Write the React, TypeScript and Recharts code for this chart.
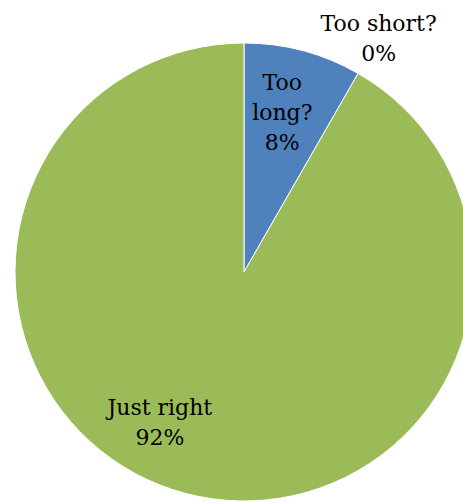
import { PieChart, Pie, Cell } from 'recharts';

const categories = ['Too long?', 'Too short?', 'Just right'];
const shares = [8.3, 0, 91.7];
const sliceColors = ['#4F81BD', '#4F81BD', '#9BBB59'];

// how each category label wraps onto lines
const labelLines = [['Too', 'long?'], ['Too short?'], ['Just right']];
// label placement relative to the slice: radius factor and angle shift (deg)
const labelRadius = [0.72, 1.18, 0.75];
const labelShift = [1.5, 0, -14.4];

const data = categories.map((name, i) => ({ name, value: shares[i] }));

const RAD = Math.PI / 180;
const LINE_H = 30;

const renderLabel = (props: any) => {
  const { cx, cy, midAngle, outerRadius, index, percent } = props;
  const r = outerRadius * labelRadius[index];
  const a = (midAngle + labelShift[index]) * RAD;
  const x = cx + r * Math.cos(-a);
  const y = cy + r * Math.sin(-a);
  const lines = [...labelLines[index], `${Math.round((percent || 0) * 100)}%`];
  const top = y - ((lines.length - 1) * LINE_H) / 2;
  return (
    <text
      key={`lbl-${index}`}
      x={x}
      y={top}
      textAnchor="middle"
      dominantBaseline="central"
      fill="#000"
      fontFamily="'DejaVu Serif', serif"
      fontSize={22}
    >
      {lines.map((t, i) => (
        <tspan key={i} x={x} y={top + i * LINE_H}>
          {t}
        </tspan>
      ))}
    </text>
  );
};

export default function App() {
  return (
    <div style={{ position: 'absolute', left: 0, top: 0, background: '#fff' }}>
      <PieChart width={463} height={502} margin={{ top: 0, right: 0, bottom: 0, left: 0 }}>
        <Pie
          data={data}
          dataKey="value"
          nameKey="name"
          cx={244}
          cy={272}
          outerRadius={229}
          startAngle={90}
          endAngle={-270}
          stroke="#fff"
          strokeWidth={1}
          label={renderLabel}
          labelLine={false}
          isAnimationActive={false}
        >
          {data.map((entry, index) => (
            <Cell key={`cell-${index}`} fill={sliceColors[index]} />
          ))}
        </Pie>
      </PieChart>
    </div>
  );
}
